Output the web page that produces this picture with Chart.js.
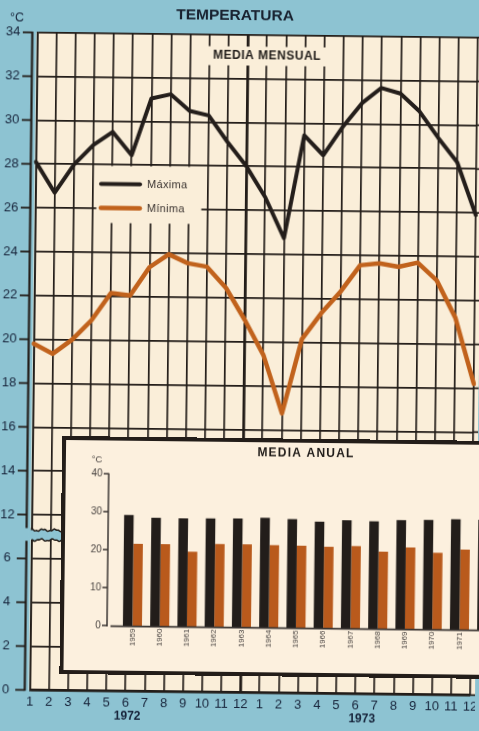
<!DOCTYPE html>
<html><head><meta charset="utf-8">
<script src="https://cdn.jsdelivr.net/npm/chart.js@4.4.1/dist/chart.umd.min.js"></script>
<style>
html,body{margin:0;padding:0;background:#8dc3d2;overflow:hidden;width:479px;height:731px;}
#wrap{position:absolute;left:0;top:0;width:479px;height:731px;transform:rotate(0.66deg);transform-origin:239.5px 365.5px;}
#main{position:absolute;left:0;top:0;}
#inset{position:absolute;left:63px;top:438px;width:448px;height:238px;border:4px solid #231d19;box-sizing:border-box;background:#fcf0de;}
#bars{position:absolute;left:0;top:0;}
</style></head>
<body>
<div id="wrap">
  <canvas id="main" width="479" height="731"></canvas>
  <div id="inset"><canvas id="bars" width="440" height="230"></canvas></div>
</div>
<script>
// ---------- DATA ----------
const months = ['1','2','3','4','5','6','7','8','9','10','11','12','1','2','3','4','5','6','7','8','9','10','11','12'];
const years = ['1972', '1973'];
const maxMonthly = [28.1, 26.7, 28.0, 28.9, 29.5, 28.45, 31.05, 31.25, 30.5, 30.3, 29.1, 28.0,
                    26.6, 24.75, 29.45, 28.55, 29.85, 30.95, 31.65, 31.4, 30.6, 29.4, 28.3, 25.9];
const minMonthly = [19.8, 19.35, 20.0, 20.9, 22.15, 22.05, 23.35, 23.95, 23.55, 23.4, 22.45, 21.0,
                    19.4, 16.75, 20.15, 21.35, 22.35, 23.55, 23.65, 23.5, 23.7, 22.9, 21.2, 18.2];
const yTickLabels = [0, 2, 4, 6, 12, 14, 16, 18, 20, 22, 24, 26, 28, 30, 32, 34];
const annualYears = ['1959','1960','1961','1962','1963','1964','1965','1966','1967','1968','1969','1970','1971','1972'];
const annualMax = [29.2, 28.55, 28.5, 28.55, 28.6, 28.9, 28.6, 28.0, 28.5, 28.3, 28.7, 28.8, 29.1, 29.0];
const annualMin = [21.6, 21.65, 19.7, 21.8, 21.8, 21.7, 21.6, 21.4, 21.7, 20.3, 21.5, 20.2, 21.1, 21.3];
const annualTicks = [0, 10, 20, 30, 40];

// ---------- STYLE ----------
const BLUE = '#8dc3d2', CREAM = '#faeed9', GRID = '#221c18', NAVY = '#16233a';
const MAXC = '#241e1b', MINC = '#c1621c';
const GW = 1.7;
const FONT = "'Liberation Sans', Arial, Helvetica, sans-serif";
// axis break: values from 12 upward are drawn 4 units lower (6 .. 12 removed, one step kept)
const BREAK_SHIFT = 4;
const toAxis = v => v > 7 ? v - BREAK_SHIFT : v;

function wavy(ctx, x0, x1, y, amp, back) {
  if (!back) { for (let x = x0; x <= x1; x += 1) ctx.lineTo(x, y + amp * Math.sin(x / 1.9) + 0.5 * amp * Math.sin(x / 0.7)); }
  else { for (let x = x1; x >= x0; x -= 1) ctx.lineTo(x, y + amp * Math.sin(x / 1.9 + 1) + 0.5 * amp * Math.sin(x / 0.8)); }
}

const mainDeco = {
  id: 'mainDeco',
  beforeDraw(chart) {
    const {ctx, chartArea: a} = chart;
    ctx.save();
    ctx.fillStyle = CREAM;
    ctx.fillRect(a.left - 1, a.top, chart.width - a.left + 1, a.bottom - a.top);
    ctx.restore();
  },
  beforeDatasetsDraw(chart) {
    const {ctx, chartArea: a, scales: {x, y}} = chart;
    ctx.save();
    // extend horizontal grid lines to the right edge
    ctx.strokeStyle = GRID; ctx.lineWidth = GW;
    y.ticks.forEach(t => {
      const py = y.getPixelForValue(t.value);
      ctx.beginPath(); ctx.moveTo(a.right, py); ctx.lineTo(chart.width, py); ctx.stroke();
    });
    // blank boxes for the labels
    ctx.fillStyle = CREAM;
    ctx.fillRect(197.5, 46.5, 132, 19);
    ctx.fillRect(94.5, 167.5, 105, 57);

    // outer y axis line with break
    const bTop = y.getPixelForValue(7.3), bBot = y.getPixelForValue(6.85);
    const axX = 28.5;
    ctx.strokeStyle = GRID; ctx.lineWidth = 2.2;
    ctx.beginPath(); ctx.moveTo(axX, a.top - 0.8); ctx.lineTo(axX, bTop - 2); ctx.stroke();
    ctx.beginPath(); ctx.moveTo(axX, bBot + 1); ctx.lineTo(axX, a.bottom + 0.8); ctx.stroke();
    ctx.lineWidth = 1.8;
    y.ticks.forEach(t => {
      const py = y.getPixelForValue(t.value);
      ctx.beginPath(); ctx.moveTo(19, py); ctx.lineTo(axX, py); ctx.stroke();
    });
    // break band
    ctx.fillStyle = BLUE;
    ctx.beginPath(); ctx.moveTo(axX + 1.5, bTop);
    wavy(ctx, axX + 1.5, chart.width, bTop, 0.9, false);
    wavy(ctx, axX + 1.5, chart.width, bBot, 0.9, true);
    ctx.closePath(); ctx.fill();
    ctx.strokeStyle = GRID; ctx.lineWidth = 1.5;
    ctx.beginPath(); ctx.moveTo(a.left, bTop); wavy(ctx, a.left, chart.width, bTop, 0.9, false); ctx.stroke();
    ctx.beginPath(); ctx.moveTo(chart.width, bBot); wavy(ctx, a.left, chart.width, bBot, 0.9, true); ctx.stroke();

    // titles
    ctx.fillStyle = '#17202e';
    ctx.textAlign = 'center'; ctx.textBaseline = 'middle';
    ctx.font = `bold 15.5px ${FONT}`;
    ctx.fillText('TEMPERATURA', 231, 16);
    ctx.font = `12.5px ${FONT}`;
    ctx.fillStyle = NAVY;
    ctx.fillText('°C', 13, 21);
    ctx.fillStyle = '#1f1b18';
    ctx.font = `bold 12px ${FONT}`;
    ctx.letterSpacing = '0.5px';
    ctx.fillText('MEDIA MENSUAL', 263.5, 56);
    ctx.letterSpacing = '0px';

    // year labels
    ctx.fillStyle = NAVY;
    ctx.font = `bold 12px ${FONT}`;
    const yearPos = [5.1, 17.35];
    years.forEach((yr, i) => ctx.fillText(yr, x.getPixelForValue(yearPos[i]), 718));

    // legend
    ctx.textAlign = 'left';
    ctx.font = `11px ${FONT}`;
    ctx.letterSpacing = '0.3px';
    const legY = [185.6, 209.6];
    chart.data.datasets.forEach((ds, i) => {
      ctx.strokeStyle = ds.borderColor; ctx.lineWidth = ds.borderWidth; ctx.lineCap = 'round';
      ctx.beginPath(); ctx.moveTo(99, legY[i]); ctx.lineTo(138, legY[i]); ctx.stroke();
      ctx.fillStyle = '#3a3330';
      ctx.fillText(ds.label, 145, legY[i]);
    });
    ctx.letterSpacing = '0px';
    ctx.restore();
  }
};

new Chart(document.getElementById('main'), {
  type: 'line',
  data: {
    labels: months,
    datasets: [
      { label: 'Máxima', data: maxMonthly.map(toAxis), borderColor: MAXC, borderWidth: 4, pointRadius: 0, tension: 0, borderJoinStyle: 'round', borderCapStyle: 'round' },
      { label: 'Mínima', data: minMonthly.map(toAxis), borderColor: MINC, borderWidth: 4.5, pointRadius: 0, tension: 0, borderJoinStyle: 'round', borderCapStyle: 'round' }
    ]
  },
  options: {
    responsive: false, animation: false, devicePixelRatio: 1,
    layout: { padding: { top: 34.8, right: 5, left: 0, bottom: 0 } },
    plugins: { legend: { display: false }, tooltip: { enabled: false } },
    scales: {
      x: {
        offset: false,
        grid: { color: GRID, lineWidth: c => c.index === 11 ? 2.8 : GW, drawTicks: false },
        border: { color: GRID, width: 2 },
        ticks: { color: NAVY, font: { size: 13, family: FONT }, padding: 4, maxRotation: 0, autoSkip: false },
        afterFit(s) { s.height = 731 - 692.4; s.paddingLeft = 0; s.paddingRight = 0; }
      },
      y: {
        min: 0, max: 30,
        grid: { color: GRID, lineWidth: GW, drawTicks: false },
        border: { color: GRID, width: GW },
        ticks: { stepSize: 2, color: NAVY, font: { size: 13, family: FONT }, padding: 17, crossAlign: 'center',
                 callback: v => yTickLabels[v / 2] },
        afterFit(s) { s.width = 33.5; s.paddingTop = 0; s.paddingBottom = 0; }
      }
    }
  },
  plugins: [mainDeco]
});

// ---------- INSET ----------
const insetDeco = {
  id: 'insetDeco',
  afterDatasetsDraw(chart) {
    const {ctx, scales: {y}} = chart;
    ctx.save();
    const ax = 43;
    ctx.strokeStyle = '#3a3532'; ctx.lineWidth = 1.5;
    ctx.beginPath(); ctx.moveTo(ax, y.getPixelForValue(40) - 0.5); ctx.lineTo(ax, y.getPixelForValue(0) + 1); ctx.stroke();
    annualTicks.forEach(t => {
      const py = y.getPixelForValue(t);
      ctx.beginPath(); ctx.moveTo(38, py); ctx.lineTo(ax, py); ctx.stroke();
    });
    ctx.lineWidth = 1.6;
    const by = y.getPixelForValue(0) + 0.6;
    ctx.beginPath(); ctx.moveTo(46.5, by); ctx.lineTo(chart.width, by); ctx.stroke();
    ctx.fillStyle = '#1f1b18';
    ctx.textAlign = 'center'; ctx.textBaseline = 'middle';
    ctx.font = `bold 12px ${FONT}`;
    ctx.letterSpacing = '1.2px';
    ctx.fillText('MEDIA ANUAL', 240, 10.5);
    ctx.letterSpacing = '0px';
    ctx.fillStyle = '#4a4542';
    ctx.font = `9.5px ${FONT}`;
    ctx.fillText('°C', 31, 19.6);
    ctx.restore();
  }
};

new Chart(document.getElementById('bars'), {
  type: 'bar',
  data: {
    labels: annualYears,
    datasets: [
      { label: 'Máxima', data: annualMax, backgroundColor: '#221d1a', categoryPercentage: 0.7, barPercentage: 1.0, borderWidth: 0 },
      { label: 'Mínima', data: annualMin, backgroundColor: '#b95a1c', categoryPercentage: 0.7, barPercentage: 1.0, borderWidth: 0 }
    ]
  },
  options: {
    responsive: false, animation: false, devicePixelRatio: 1,
    layout: { padding: { top: 33.3, right: 3.7, left: 0, bottom: 0 } },
    plugins: { legend: { display: false }, tooltip: { enabled: false } },
    scales: {
      x: {
        grid: { display: false, drawTicks: false }, border: { display: false },
        ticks: { minRotation: 90, maxRotation: 90, autoSkip: false, padding: 2.5, color: '#4a4542', font: { size: 8, family: FONT } },
        afterFit(s) { s.height = 45; s.paddingLeft = 0; s.paddingRight = 0; }
      },
      y: {
        min: 0, max: 40,
        grid: { display: false, drawTicks: false }, border: { display: false },
        ticks: { stepSize: 10, padding: 18, color: '#4a4542', font: { size: 10, family: FONT } },
        afterFit(s) { s.width = 54.8; s.paddingTop = 0; s.paddingBottom = 0; }
      }
    }
  },
  plugins: [insetDeco]
});
</script>
</body></html>
